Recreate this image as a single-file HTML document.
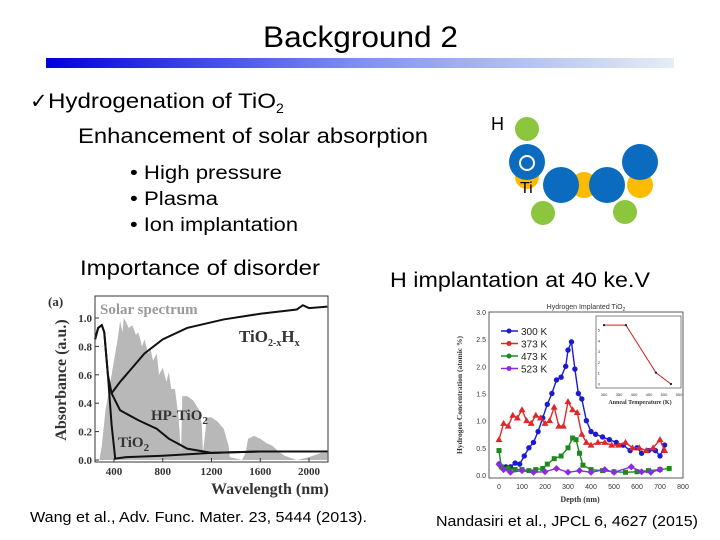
<!DOCTYPE html>
<html><head><meta charset="utf-8"><style>
html,body{margin:0;padding:0;background:#fff;}
svg{display:block;font-family:"Liberation Sans",sans-serif;}
.serif{font-family:"Liberation Serif",serif;font-weight:bold;}
</style></head><body>
<svg id="page" width="720" height="540" viewBox="0 0 720 540">
<defs><linearGradient id="bar" x1="0" x2="1"><stop offset="0" stop-color="#0000e0"/><stop offset="0.5" stop-color="#8090f0"/><stop offset="1" stop-color="#e4eef4"/></linearGradient></defs>
<text x="263" y="47" font-size="30" textLength="195" lengthAdjust="spacingAndGlyphs">Background 2</text>
<rect x="46" y="58" width="628" height="10" fill="url(#bar)"/>
<text x="30" y="108" font-size="21"><tspan>✓ </tspan><tspan x="48" textLength="228" lengthAdjust="spacingAndGlyphs">Hydrogenation of TiO</tspan><tspan font-size="14" dy="5">2</tspan></text>
<text x="78" y="143" font-size="21" textLength="350" lengthAdjust="spacingAndGlyphs">Enhancement of solar absorption</text>
<text x="130" y="179" font-size="19" textLength="152" lengthAdjust="spacingAndGlyphs">• High pressure</text>
<text x="130" y="205" font-size="19" textLength="88" lengthAdjust="spacingAndGlyphs">• Plasma</text>
<text x="130" y="231" font-size="19" textLength="168" lengthAdjust="spacingAndGlyphs">• Ion implantation</text>
<text x="80" y="275" font-size="21" textLength="240" lengthAdjust="spacingAndGlyphs">Importance of disorder</text>
<text x="390" y="287" font-size="21" textLength="260" lengthAdjust="spacingAndGlyphs">H implantation at 40 ke.V</text>
<text x="30" y="522" font-size="15" textLength="337" lengthAdjust="spacingAndGlyphs">Wang et al., Adv. Func. Mater. 23, 5444 (2013).</text>
<text x="436" y="526" font-size="15" textLength="262" lengthAdjust="spacingAndGlyphs">Nandasiri et al., JPCL 6, 4627 (2015)</text>
<g>
<circle cx="527" cy="177" r="12" fill="#fbbb00"/><circle cx="584" cy="185" r="13" fill="#fbbb00"/><circle cx="640" cy="185" r="13" fill="#fbbb00"/>
<circle cx="527" cy="129" r="12" fill="#8cc63f"/><circle cx="543" cy="213" r="12" fill="#8cc63f"/><circle cx="625" cy="212" r="12" fill="#8cc63f"/>
<circle cx="527" cy="162" r="18" fill="#0b6bbf"/><circle cx="561" cy="185" r="18" fill="#0b6bbf"/><circle cx="607" cy="185" r="18" fill="#0b6bbf"/><circle cx="640" cy="162" r="18" fill="#0b6bbf"/>
<circle cx="527" cy="163" r="7" fill="none" stroke="#fff" stroke-width="2"/>
<text x="491" y="130" font-size="18">H</text><text x="520" y="193" font-size="16">Ti</text>
</g>
<g id="left"></g>
<g id="right"></g>
</svg>
<script>
const NS="http://www.w3.org/2000/svg";
function mk(p,t,a){const e=document.createElementNS(NS,t);for(const k in a)e.setAttribute(k,a[k]);p.appendChild(e);return e;}
// ---- Left chart data ----
const solarWl=[280,300,330,350,380,400,430,450,470,480,500,520,550,580,600,630,650,680,700,720,750,770,800,830,850,870,900,930,950,960,1000,1050,1100,1120,1130,1150,1160,1200,1250,1300,1340,1350,1450,1480,1500,1550,1600,1650,1700,1750,1800,1900,2000,2100,2150];
const solarVal=[0,0.1,0.35,0.45,0.6,0.7,0.85,0.98,0.9,1.0,0.97,0.93,0.95,0.88,0.9,0.8,0.85,0.75,0.78,0.7,0.75,0.6,0.65,0.55,0.62,0.5,0.5,0.3,0.05,0.45,0.45,0.42,0.35,0.25,0.05,0.2,0.3,0.3,0.27,0.22,0.1,0.02,0,0.05,0.15,0.17,0.15,0.12,0.1,0.06,0.03,0,0.02,0.05,0.05];
const tio2Wl=[245,270,300,320,350,380,410,500,800,1200,1600,2000,2150];
const tio2Val=[0.85,0.93,0.95,0.9,0.6,0.25,0.01,0.02,0.03,0.05,0.06,0.06,0.06];
const hpWl=[245,270,300,320,350,380,450,600,750,850,1000,1200,1600,2150];
const hpVal=[0.85,0.93,0.95,0.9,0.6,0.47,0.35,0.28,0.22,0.15,0.08,0.05,0.06,0.06];
const hxWl=[380,450,500,650,800,1000,1300,1600,1900,1950,2000,2150];
const hxVal=[0.47,0.55,0.6,0.75,0.85,0.93,0.99,1.03,1.06,1.09,1.07,1.08];
const leftXTicks=[400,800,1200,1600,2000];
const leftYTicks=[0.0,0.2,0.4,0.6,0.8,1.0];
(function(){
const g=document.getElementById('left');
const X=w=>114+(w-400)*(195/1600), Y=v=>460-v*142;
const sp=[`M${X(280)},${Y(0)}`].concat(solarWl.map((w,i)=>`L${X(w)},${Y(solarVal[i])}`)).join(' ')+` L${X(2150)},${Y(0)}Z`;
let e=mk(g,'path',{d:sp,fill:'#b8b8b8'});


const line=(ws,vs,n)=>{const p=mk(g,'path',{d:ws.map((w,i)=>(i?'L':'M')+X(w)+','+Y(vs[i])).join(' '),fill:'none',stroke:'#111','stroke-width':2});

};
line(tio2Wl,tio2Val,'tio2-curve');line(hpWl,hpVal,'hp-tio2-curve');line(hxWl,hxVal,'tio2-xhx-curve');
mk(g,'rect',{x:95,y:296,width:233,height:166,fill:'none',stroke:'#333','stroke-width':1});
leftXTicks.forEach(t=>{mk(g,'line',{x1:X(t),x2:X(t),y1:462,y2:458,stroke:'#333'});const s=mk(g,'text',{x:X(t),y:475,'font-size':11,'text-anchor':'middle',class:'serif',fill:'#333'});s.textContent=t;

});
leftYTicks.forEach(t=>{mk(g,'line',{x1:95,x2:99,y1:Y(t),y2:Y(t),stroke:'#333'});const s=mk(g,'text',{x:92,y:Y(t)+4,'font-size':11,'text-anchor':'end',class:'serif',fill:'#333'});s.textContent=t.toFixed(1);

});
const tx=(x,y,s,fs,extra)=>{const t=mk(g,'text',Object.assign({x:x,y:y,'font-size':fs,class:'serif',fill:'#333'},extra||{}));t.innerHTML=s;return t;};
tx(48,306,'(a)',13);
tx(100,314,'Solar spectrum',15,{fill:'#999'});
tx(239,342,'TiO<tspan font-size="10" dy="4">2-x</tspan><tspan dy="-4">H</tspan><tspan font-size="10" dy="4">x</tspan>',17);
tx(151,420,'HP-TiO<tspan font-size="11" dy="4">2</tspan>',15);
tx(118,447,'TiO<tspan font-size="11" dy="4">2</tspan>',15);
tx(211,494,'Wavelength (nm)',16);
tx(0,0,'Absorbance (a.u.)',16,{transform:'translate(66,380) rotate(-90)','text-anchor':'middle'});
})();
// ---- Right chart data ----
const d300=[0,10,30,50,70,90,110,130,150,170,190,210,230,250,270,290,300,315,330,345,360,380,400,420,450,480,510,540,570,600,620,650,680,700,720];
const v300=[0.2,0.15,0.15,0.15,0.22,0.2,0.35,0.5,0.6,0.8,1.05,1.3,1.5,1.75,1.8,2.0,2.3,2.45,1.95,1.5,1.4,1.0,0.8,0.75,0.7,0.65,0.6,0.55,0.45,0.5,0.4,0.45,0.45,0.35,0.55];
const d373=[0,20,40,60,80,100,120,140,160,180,200,220,240,260,280,300,320,340,360,380,400,430,460,490,520,550,580,610,640,670,700,720];
const v373=[0.65,0.95,0.9,1.1,1.05,1.2,1.0,0.95,1.1,1.05,0.95,1.0,1.25,0.9,0.9,1.35,1.2,1.15,0.75,0.6,0.55,0.6,0.6,0.55,0.55,0.6,0.5,0.5,0.45,0.5,0.65,0.45];
const d473=[0,10,40,70,100,130,160,190,210,240,270,300,320,335,350,365,400,450,500,550,600,650,700,740];
const v473=[0.45,0.15,0.12,0.1,0.1,0.08,0.1,0.12,0.2,0.3,0.35,0.5,0.68,0.65,0.4,0.18,0.1,0.08,0.06,0.05,0.06,0.08,0.1,0.12];
const d523=[0,20,50,100,150,200,250,300,350,400,460,500,575,620,660,700];
const v523=[0.2,0.1,0.05,0.08,0.05,0.06,0.12,0.05,0.08,0.05,0.1,0.05,0.15,0.06,0.05,0.1];
const rightXTicks=[0,100,200,300,400,500,600,700,800];
const rightYTicks=[0.0,0.5,1.0,1.5,2.0,2.5,3.0];
const insetT=[300,373,473,523];
const insetV=[5.45,5.45,1.05,0.0];
const insetXTicks=[300,350,400,450,500,550];
const insetYTicks=[0,1,2,3,4,5];
(function(){
const g=document.getElementById('right');
const X=d=>499+d*(184/800), Y=v=>475-v*(163/3);
mk(g,'rect',{x:489,y:312,width:194,height:166,fill:'none',stroke:'#333','stroke-width':0.8});
const series=[[d300,v300,'#1a1ad0','circle','series-300k'],[d373,v373,'#e02828','tri','series-373k'],[d473,v473,'#1e8a1e','sq','series-473k'],[d523,v523,'#8a2be2','dia','series-523k']];
series.forEach(([ds,vs,c,m,n])=>{const sg=mk(g,'g',{});


mk(sg,'path',{d:ds.map((d,i)=>(i?'L':'M')+X(d)+','+Y(vs[i])).join(' '),fill:'none',stroke:c,'stroke-width':1.4});
ds.forEach((d,i)=>{const x=X(d),y=Y(vs[i]);
if(m==='circle')mk(sg,'circle',{cx:x,cy:y,r:2.7,fill:c});
else if(m==='tri')mk(sg,'path',{d:`M${x},${y-3.5}L${x+3.5},${y+2.5}L${x-3.5},${y+2.5}Z`,fill:c});
else if(m==='sq')mk(sg,'rect',{x:x-2.5,y:y-2.5,width:5,height:5,fill:c});
else mk(sg,'path',{d:`M${x},${y-3.5}L${x+3.5},${y}L${x},${y+3.5}L${x-3.5},${y}Z`,fill:c});});});
rightXTicks.forEach(t=>{const s=mk(g,'text',{x:X(t),y:489,'font-size':7,'text-anchor':'middle',fill:'#333'});s.textContent=t;

});
rightYTicks.forEach(t=>{const s=mk(g,'text',{x:486,y:Y(t)+3,'font-size':7,'text-anchor':'end',fill:'#333'});s.textContent=t.toFixed(1);

});
let t=mk(g,'text',{x:586,y:309,'font-size':7,'text-anchor':'middle',fill:'#333'});t.innerHTML='Hydrogen Implanted TiO<tspan font-size="5" dy="2">2</tspan>';


t=mk(g,'text',{x:580,y:502,'font-size':8,'text-anchor':'middle',class:'serif',fill:'#333'});t.textContent='Depth (nm)';


t=mk(g,'text',{x:0,y:0,'font-size':7.5,'text-anchor':'middle',class:'serif',fill:'#333',transform:'translate(462,395) rotate(-90)'});t.textContent='Hydrogen Concentration (atomic %)';


const labels=['300 K','373 K','473 K','523 K'];
series.forEach((s,i)=>{const y=331+i*12.5;mk(g,'line',{x1:501,x2:518,y1:y,y2:y,stroke:s[2],'stroke-width':1.5});mk(g,'circle',{cx:509,cy:y,r:2.5,fill:s[2]});
const l=mk(g,'text',{x:521,y:y+4,'font-size':10,fill:'#222'});l.textContent=labels[i];

});
// inset
const ig=mk(g,'g',{});


const IX=v=>604+(v-300)*(75/250), IY=v=>384-v*(54/5);
mk(ig,'rect',{x:596,y:316,width:85,height:72,fill:'#fff',stroke:'#333','stroke-width':0.6});
mk(ig,'path',{d:insetT.map((v,i)=>(i?'L':'M')+IX(v)+','+IY(insetV[i])).join(' '),fill:'none',stroke:'#d02020','stroke-width':1});
insetT.forEach((v,i)=>mk(ig,'rect',{x:IX(v)-1,y:IY(insetV[i])-1,width:2,height:2,fill:'#223'}));
insetXTicks.forEach(v=>{const s=mk(ig,'text',{x:IX(v),y:396,'font-size':4,'text-anchor':'middle',fill:'#333'});s.textContent=v;});
insetYTicks.forEach(v=>{const s=mk(ig,'text',{x:600,y:IY(v)+1.5,'font-size':4,'text-anchor':'end',fill:'#333'});s.textContent=v;});
const s=mk(ig,'text',{x:640,y:404,'font-size':6,'text-anchor':'middle',class:'serif',fill:'#333'});s.textContent='Anneal Temperature (K)';
})();
</script>
</body></html>
